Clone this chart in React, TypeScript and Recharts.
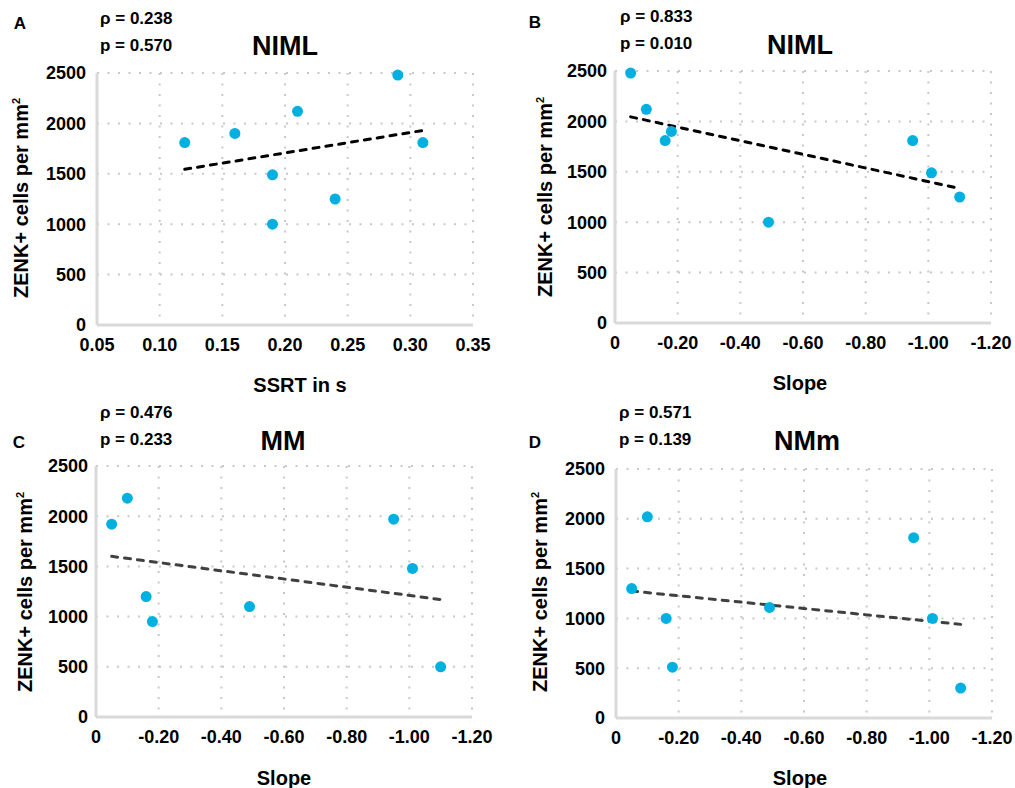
import React from 'react';
import { CartesianGrid, ReferenceLine, Scatter, ScatterChart, XAxis, YAxis } from 'recharts';

// values
const ssrt = [0.12, 0.16, 0.19, 0.19, 0.21, 0.24, 0.29, 0.31];
const slopes = [-0.05, -0.1, -0.16, -0.18, -0.49, -0.95, -1.01, -1.1];
const zenkNimlSsrt = [1810, 1900, 1490, 1000, 2120, 1250, 2480, 1810];
const zenkNimlSlope = [2480, 2120, 1810, 1900, 1000, 1810, 1490, 1250];
const zenkMM = [1920, 2180, 1200, 950, 1100, 1970, 1480, 500];
const zenkNMm = [1300, 2020, 1000, 510, 1110, 1810, 1000, 300];

const ssrtTicks = [0.05, 0.1, 0.15, 0.2, 0.25, 0.3, 0.35];
const slopeTicks = [0, -0.2, -0.4, -0.6, -0.8, -1.0, -1.2];
const zenkTicks = [0, 500, 1000, 1500, 2000, 2500];

const panelLetters = ['A', 'B', 'C', 'D'];
const regionTitles = ['NIML', 'NIML', 'MM', 'NMm'];
const rhoValues = ['0.238', '0.833', '0.476', '0.571'];
const pValues = ['0.570', '0.010', '0.233', '0.139'];
const xLabels = ['SSRT in s', 'Slope', 'Slope', 'Slope'];
const trendX = [[0.12, 0.31], [-0.05, -1.1], [-0.05, -1.1], [-0.05, -1.1]];
const trendY = [[1545, 1930], [2045, 1335], [1600, 1170], [1275, 940]];

const seriesX = [ssrt, slopes, slopes, slopes];
const seriesY = [zenkNimlSsrt, zenkNimlSlope, zenkMM, zenkNMm];

const FONT = "'Liberation Sans', Arial, sans-serif";
const DOT = '#00b0e0';

// layout of each panel (pixels)
const layouts = [
  { left: 0, top: 0, w: 505, yw: 97, right: 32, mt: 73, mb: 69, ygap: 11, trend: '#000',
    letter: [20, 23], rho: [100, 19], title: [285, 46], ylab: [21, 198], xlab: [300, 385] },
  { left: 505, top: 0, w: 510, yw: 110, right: 24, mt: 71, mb: 71, ygap: 8, trend: '#000',
    letter: [535, 22], rho: [620, 17], title: [800, 45], ylab: [545, 197], xlab: [800, 383] },
  { left: 0, top: 394, w: 505, yw: 96, right: 33, mt: 72, mb: 71, ygap: 8, trend: '#404040',
    letter: [19, 442], rho: [100, 413], title: [283, 441], ylab: [25, 592], xlab: [284, 778] },
  { left: 505, top: 394, w: 510, yw: 111, right: 23, mt: 75, mb: 70, ygap: 11, trend: '#404040',
    letter: [535, 442], rho: [619, 413], title: [807, 441], ylab: [540, 592], xlab: [800, 778] },
];

const tickStyle = { fill: '#000', fontSize: 18, fontWeight: 700, fontFamily: FONT };

const fmtSlope = (v: number) => (v === 0 ? '0' : v.toFixed(2));
const fmtSsrt = (v: number) => v.toFixed(2);

const centered = (x: number, y: number, extra: React.CSSProperties = {}): React.CSSProperties => ({
  position: 'absolute',
  left: x,
  top: y,
  transform: 'translate(-50%, -50%)',
  whiteSpace: 'nowrap',
  lineHeight: 1,
  fontFamily: FONT,
  fontWeight: 700,
  color: '#000',
  ...extra,
});

const Dot = (props: any) => <circle cx={props.cx} cy={props.cy} r={5.5} fill={DOT} />;

const Panel = ({ i }: { i: number }) => {
  const L = layouts[i];
  const isSsrt = i === 0;
  const data = seriesX[i].map((x, k) => ({ x, y: seriesY[i][k] }));
  return (
    <div style={{ position: 'absolute', left: L.left, top: L.top, width: L.w, height: 394 }}>
      <ScatterChart
        width={L.w}
        height={394}
        margin={{ top: L.mt, right: L.right, left: 0, bottom: L.mb - 40 }}
      >
        <CartesianGrid stroke="#c8c8c8" strokeWidth={2} strokeDasharray="2 8.5" />
        <XAxis
          type="number"
          dataKey="x"
          domain={isSsrt ? [0.05, 0.35] : [-1.2, 0]}
          ticks={isSsrt ? ssrtTicks : slopeTicks}
          reversed={!isSsrt}
          tickFormatter={isSsrt ? fmtSsrt : fmtSlope}
          axisLine={{ stroke: '#d9d9d9', strokeWidth: 3 }}
          tickLine={false}
          tickSize={0}
          tickMargin={13}
          height={40}
          tick={tickStyle}
          interval={0}
        />
        <YAxis
          type="number"
          dataKey="y"
          domain={[0, 2500]}
          ticks={zenkTicks}
          axisLine={{ stroke: '#d9d9d9', strokeWidth: 3 }}
          tickLine={false}
          tickSize={0}
          tickMargin={L.ygap}
          width={L.yw}
          tick={tickStyle}
          interval={0}
        />
        <ReferenceLine
          segment={[
            { x: trendX[i][0], y: trendY[i][0] },
            { x: trendX[i][1], y: trendY[i][1] },
          ]}
          stroke={L.trend}
          strokeWidth={3}
          strokeDasharray="6 7"
          strokeLinecap="round"
        />
        <Scatter data={data} shape={Dot} isAnimationActive={false} />
      </ScatterChart>
    </div>
  );
};

const App = () => (
  <div style={{ position: 'absolute', left: 0, top: 0, width: 1015, height: 788, background: '#fff' }}>
    {layouts.map((L, i) => <Panel key={i} i={i} />)}
    {layouts.map((L, i) => (
      <React.Fragment key={'t' + i}>
        <div style={centered(L.letter[0], L.letter[1], { fontSize: 17 })}>{panelLetters[i]}</div>
        <div style={{ position: 'absolute', left: L.rho[0], top: L.rho[1] - 9, fontFamily: FONT, fontWeight: 700, fontSize: 17, lineHeight: 1, whiteSpace: 'nowrap' }}>
          ρ = {rhoValues[i]}
        </div>
        <div style={{ position: 'absolute', left: L.rho[0], top: L.rho[1] + 18, fontFamily: FONT, fontWeight: 700, fontSize: 17, lineHeight: 1, whiteSpace: 'nowrap' }}>
          p = {pValues[i]}
        </div>
        <div style={centered(L.title[0], L.title[1], { fontSize: 27 })}>{regionTitles[i]}</div>
        <div style={centered(L.ylab[0], L.ylab[1], { fontSize: 20, transform: 'translate(-50%, -50%) rotate(-90deg)' })}>
          ZENK+ cells per mm<sup style={{ fontSize: 11 }}>2</sup>
        </div>
        <div style={centered(L.xlab[0], L.xlab[1], { fontSize: 20 })}>{xLabels[i]}</div>
      </React.Fragment>
    ))}
  </div>
);

export default App;
